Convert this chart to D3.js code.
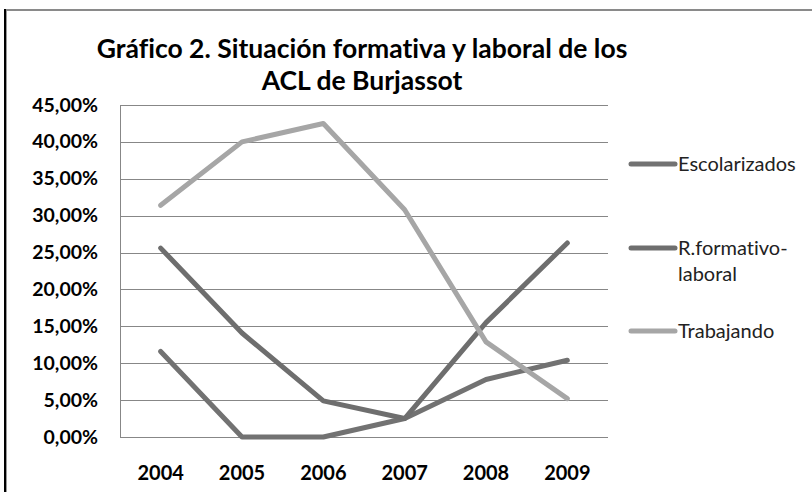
<!DOCTYPE html>
<html><head><meta charset="utf-8">
<script src="https://cdn.jsdelivr.net/npm/d3@7"></script>
<style>body{margin:0;background:#fff}svg{display:block}text{font-variant-ligatures:none;font-feature-settings:"liga" 0,"clig" 0}</style>
</head><body>
<svg id="c" width="812" height="492"></svg>
<script>
const years = ["2004","2005","2006","2007","2008","2009"];
const escolarizados = [11.6, 0, 0, 2.5, 7.8, 10.4];
const rFormativo = [25.6, 14.1, 4.9, 2.5, 15.5, 26.3];
const trabajando = [31.4, 40.0, 42.5, 30.8, 12.9, 5.2];
const yTicks = [0,5,10,15,20,25,30,35,40,45];
const seriesNames = ["Escolarizados", "R.formativo-laboral", "Trabajando"];
const colors = ["#727272", "#6e6e6e", "#a6a6a6"];

const svg = d3.select("#c");
const font = "Lato, 'Open Sans', sans-serif";
// frame
svg.append("rect").attr("x",0).attr("y",0).attr("width",812).attr("height",492).attr("fill","#fff");
svg.append("line").attr("x1",6).attr("x2",812).attr("y1",10).attr("y2",10).attr("stroke","#8a8a8a").attr("stroke-width",2);
svg.append("line").attr("x1",5).attr("x2",5).attr("y1",9).attr("y2",492).attr("stroke","#000").attr("stroke-width",2);
svg.append("line").attr("x1",6.5).attr("x2",6.5).attr("y1",11).attr("y2",492).attr("stroke","#999").attr("stroke-width",1);

const x = d3.scalePoint().domain(years).range([120,608]).padding(0.5);
const y = d3.scaleLinear().domain([0,45]).range([437,105]);

// gridlines
svg.append("g").selectAll("line").data(yTicks).join("line")
  .attr("x1",120).attr("x2",608).attr("y1",d=>Math.round(y(d))+0.5).attr("y2",d=>Math.round(y(d))+0.5)
  .attr("stroke","#878787").attr("stroke-width",1);
svg.append("line").attr("x1",120.5).attr("x2",120.5).attr("y1",105).attr("y2",437.5).attr("stroke","#878787");

// y labels
svg.append("g").selectAll("text").data(yTicks).join("text")
  .attr("x",98).attr("y",d=>y(d)+6.5).attr("text-anchor","end")
  .attr("font-family",font).attr("font-weight","bold").attr("font-size",19.5).attr("fill","#000")
  .text(d=>d3.format(".2f")(d).replace(".",",")+"%");
// x labels
svg.append("g").selectAll("text").data(years).join("text")
  .attr("x",d=>x(d)).attr("y",480).attr("text-anchor","middle")
  .attr("font-family",font).attr("font-weight","bold").attr("font-size",20).attr("fill","#000")
  .text(d=>d);

const all = [escolarizados, rFormativo, trabajando];
const line = d3.line().x((d,i)=>x(years[i])).y(d=>y(d));
all.forEach((s,k)=>{
  svg.append("path").attr("d",line(s)).attr("fill","none").attr("stroke",colors[k])
    .attr("stroke-width",5).attr("stroke-linejoin","round").attr("stroke-linecap","round");
});

// title
const t = svg.append("text").attr("text-anchor","middle").attr("font-family",font)
  .attr("font-weight","bold").attr("font-size",26.5).attr("fill","#000");
t.append("tspan").attr("x",362).attr("y",58).text("Gráfico 2. Situación formativa y laboral de los");
t.append("tspan").attr("x",362).attr("y",90).text("ACL de Burjassot");

// legend
const legY = [164, 248, 331];
const legLines = [["Escolarizados"],["R.formativo-","laboral"],["Trabajando"]];
legY.forEach((ly,k)=>{
  svg.append("line").attr("x1",631).attr("x2",675).attr("y1",ly).attr("y2",ly)
    .attr("stroke",colors[k]).attr("stroke-width",5).attr("stroke-linecap","round");
  const tx = svg.append("text").attr("font-family",font).attr("font-size",20).attr("fill","#222");
  legLines[k].forEach((s,j)=>{
    tx.append("tspan").attr("x",678).attr("y",ly+7+j*26).text(s);
  });
});
</script>
</body></html>
